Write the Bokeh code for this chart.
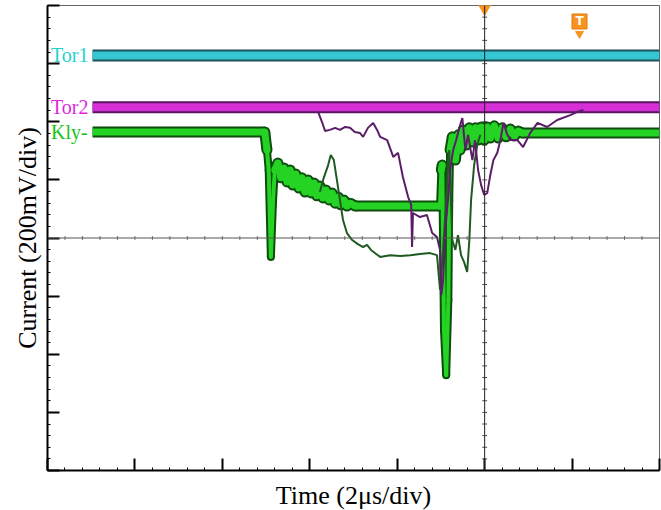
import numpy as np
from bokeh.plotting import figure
from bokeh.models import FixedTicker, Span, CustomJSTickFormatter, CustomLabelingPolicy
from bokeh.core.properties import value
from bokeh.embed import file_html
from bokeh.resources import INLINE

# ---- axis setup (time in microseconds, signal in mV) ----
X_MAJOR = [0, 2, 4, 6, 8, 10, 12, 14]          # 2 us / div
Y_MAJOR = [-800, -600, -400, -200, 0, 200, 400, 600, 800]  # 200 mV / div
TRIG_T = 10.0
T_ICON_T, T_ICON_V = 12.17, 745

# ---- channel baselines ----
tor1_t = [1.03, 14.0]
tor1_v = [628, 628]
tor2_t = [1.03, 14.0]
tor2_v = [450, 450]

# ---- Kly- main trace ----
kly_t = [1.03, 4.97, 5.02, 5.06, 5.11, 5.16, 5.20, 5.27, 5.34, 5.41, 5.48, 5.55, 5.61,
         5.68, 5.75, 5.82, 5.89, 5.96, 6.03, 6.10, 6.16, 6.23, 6.30, 6.37, 6.44, 6.51,
         6.58, 6.65, 6.71, 6.78, 6.85, 6.92, 7.04, 8.98, 9.01, 9.03, 9.05, 9.07, 9.12,
         9.17, 9.19, 9.21, 9.26, 9.33, 9.40, 9.44, 9.51, 9.58, 9.65, 9.72, 9.79, 9.85,
         9.92, 9.99, 10.06, 10.13, 10.22, 10.31, 10.40, 10.49, 10.59, 10.68, 10.77,
         10.86, 14.0]
kly_v = [365, 365, 303, 234, -65, 131, 234, 258, 207, 241, 193, 234, 182, 220, 172,
         207, 158, 200, 155, 189, 145, 179, 138, 165, 131, 155, 120, 141, 114, 131,
         110, 120, 110, 110, 234, 251, -41, -317, -472, -213, 131, 303, 348, 268, 355,
         303, 372, 320, 379, 330, 379, 337, 382, 337, 382, 344, 386, 344, 379, 348,
         375, 351, 368, 361, 361]

# ---- second Kly- acquisition (thin dark green) ----
kly2_t = [6.23, 6.32, 6.42, 6.48, 6.55, 6.62, 6.69, 6.76, 6.85, 6.97, 7.10, 7.22, 7.31,
          7.40, 7.52, 7.61, 7.84, 8.07, 8.30, 8.52, 8.75, 8.91, 8.98, 9.05, 9.12, 9.19,
          9.26, 9.33, 9.39, 9.46, 9.53, 9.60, 9.65, 9.69, 9.76, 9.83, 9.90]
kly2_v = [158, 207, 251, 286, 268, 200, 131, 62, 17, -7, -21, -31, -24, -41, -55, -65,
          -59, -62, -59, -55, -52, -59, -179, -41, 131, 303, -7, -41, 10, -59, -83,
          -117, -7, 131, 251, 320, 355]

# ---- second Tor2 acquisition (thin purple) ----
tor2b_t = [6.19, 6.28, 6.35, 6.46, 6.58, 6.69, 6.81, 6.92, 7.03, 7.15, 7.22, 7.33, 7.45,
           7.54, 7.61, 7.77, 7.91, 8.02, 8.13, 8.25, 8.32, 8.34, 8.36, 8.52, 8.68, 8.80,
           8.91, 8.98, 9.01, 9.05, 9.10, 9.17, 9.21, 9.28, 9.35, 9.42, 9.49, 9.56, 9.62,
           9.72, 9.78, 9.85, 9.92, 9.99, 10.06, 10.13, 10.20, 10.29, 10.36, 10.43, 10.52,
           10.59, 10.75, 10.88, 11.04, 11.21, 11.43, 11.66, 11.96, 12.12, 12.26]
tor2b_v = [434, 399, 368, 372, 379, 372, 382, 379, 365, 361, 348, 379, 396, 372, 348,
           337, 279, 293, 210, 141, 114, -31, 86, 72, 79, 17, 3, -41, -196, -145, 28,
           148, 234, 303, 337, 379, 413, 303, 355, 268, 337, 234, 182, 148, 155, 217,
           268, 293, 337, 396, 355, 337, 337, 313, 361, 396, 382, 406, 423, 434, 441]

labels = ["Tor1", "Tor2", "Kly-"]
label_v = [tor1_v[0], tor2_v[0], kly_v[0]]
label_colors = ["#1fd3cf", "#e21fe2", "#14c414"]

FW, FH = 612, 465
p = figure(frame_width=FW, frame_height=FH, x_range=(0, 14), y_range=(-800, 800),
           output_backend="svg", toolbar_location=None,
           min_border_left=47, min_border_right=2, min_border_top=5, min_border_bottom=40,
           background_fill_color="white", border_fill_color="white")
p.grid.visible = False
p.outline_line_color = "#666666"
p.outline_line_width = 1

no_labels = CustomLabelingPolicy(code="""
const all = [...indices];
for (const i of all) indices.unset(i);
return indices;
""")
blank = CustomJSTickFormatter(code="return '';")

for ax in (p.xaxis[0], p.yaxis[0]):
    ax.axis_line_width = 2
    ax.axis_line_color = "black"
    ax.major_tick_in = 12
    ax.major_tick_out = 0
    ax.minor_tick_in = 3
    ax.minor_tick_out = 0
    ax.major_tick_line_width = 2
    ax.minor_tick_line_width = 1
    ax.major_tick_line_color = "black"
    ax.minor_tick_line_color = "black"
    ax.formatter = blank
    ax.major_label_policy = no_labels
    ax.major_label_standoff = 0
    ax.axis_label_text_font = "Liberation Serif"
    ax.axis_label_text_font_size = "26px"
    ax.axis_label_text_font_style = "normal"
    ax.axis_label_text_color = "black"

p.xaxis.ticker = FixedTicker(ticks=X_MAJOR,
                             minor_ticks=list(np.arange(X_MAJOR[0], X_MAJOR[-1] + 0.01, 0.4)))
p.yaxis.ticker = FixedTicker(ticks=Y_MAJOR,
                             minor_ticks=list(np.arange(Y_MAJOR[0], Y_MAJOR[-1] + 1, 40)))
p.xaxis.axis_label = "Time (2μs/div)"
p.yaxis.axis_label = "Current (200mV/div)"
p.xaxis.axis_label_standoff = 10
p.yaxis.axis_label_standoff = 6

# centre graticule lines
p.add_layout(Span(location=0, dimension="width", line_color="#555555", line_width=1))
p.add_layout(Span(location=TRIG_T, dimension="height", line_color="#222222", line_width=1))
gx = np.arange(X_MAJOR[0], X_MAJOR[-1] + 0.01, 0.4)
p.scatter(gx, np.zeros_like(gx), marker="dash", angle=np.pi / 2, size=4,
          line_color="#777777", line_width=1)
gy = np.arange(Y_MAJOR[0], Y_MAJOR[-1] + 1, 40)
p.scatter(np.full_like(gy, TRIG_T, dtype=float), gy, marker="dash", size=5,
          line_color="#555555", line_width=1)

px_us = FW / 14.0
px_mv = FH / 1600.0


def band(t, v, dark, bright, w_thick=8, w_thin=4, edge=4):
    t = np.asarray(t, float)
    v = np.asarray(v, float)
    dx = np.diff(t) * px_us
    dy = np.abs(np.diff(v)) * px_mv
    steep = dy > 10 * np.maximum(dx, 0.3)
    w_in = np.where(steep, w_thin, w_thick)
    # joints: round fill at interior vertices, flat ends at the trace start/stop
    w_joint = np.maximum(w_in[:-1], w_in[1:]) if len(w_in) > 1 else np.array([])
    for w, col in ((w_in + edge, dark), (w_in, bright)):
        p.segment(t[:-1], v[:-1], t[1:], v[1:], line_width=w, line_color=col,
                  line_cap="butt")
    if len(w_joint):
        p.scatter(t[1:-1], v[1:-1], marker="circle", size=w_joint + edge,
                  fill_color=dark, line_color=None)
        p.scatter(t[1:-1], v[1:-1], marker="circle", size=w_joint,
                  fill_color=bright, line_color=None)


band(tor1_t, tor1_v, "#1d5358", "#35c5d3")
band(tor2_t, tor2_v, "#5a1460", "#d52fd5")


def band_layers(t, v, dark, bright, w_thick=7, w_thin=4, edge=4):
    t = np.asarray(t, float)
    v = np.asarray(v, float)
    dx = np.diff(t) * px_us
    dy = np.abs(np.diff(v)) * px_mv
    steep = dy > 10 * np.maximum(dx, 0.3)
    w_in = np.where(steep, w_thin, w_thick)
    w_joint = np.maximum(w_in[:-1], w_in[1:])
    # dark outline layer first, then bright core
    p.segment(t[:-1], v[:-1], t[1:], v[1:], line_width=w_in + edge, line_color=dark,
              line_cap="butt")
    p.scatter(t[1:-1], v[1:-1], marker="circle", size=w_joint + edge,
              fill_color=dark, line_color=None)
    p.segment(t[:-1], v[:-1], t[1:], v[1:], line_width=w_in, line_color=bright,
              line_cap="butt")
    p.scatter(t[1:-1], v[1:-1], marker="circle", size=w_joint,
              fill_color=bright, line_color=None)


band_layers(kly_t, kly_v, "#0d4d0d", "#25d325")

p.line(kly2_t, kly2_v, line_color="#1f5a22", line_width=2)
p.line(tor2b_t, tor2b_v, line_color="#5b1d68", line_width=2)

# channel labels
p.text(x=[0.08] * 3, y=label_v, text=labels, text_color=label_colors,
       text_font=value("Liberation Serif"), text_font_size="20px",
       text_align="left", text_baseline="middle")

# trigger markers
p.scatter([TRIG_T], [Y_MAJOR[-1] - 10], marker="inverted_triangle", size=12,
          fill_color="#f7931e", line_color="#f7931e")
p.scatter([T_ICON_T], [T_ICON_V - 42], marker="inverted_triangle", size=8,
          fill_color="#f7931e", line_color="#f7931e")
p.scatter([T_ICON_T], [T_ICON_V], marker="square", size=15,
          fill_color="#f7931e", line_color="#e07b10")
p.text(x=[T_ICON_T], y=[T_ICON_V], text=["T"], text_color="white",
       text_font=value("DejaVu Sans"), text_font_style="bold", text_font_size="12px",
       text_align="center", text_baseline="middle")

open("out.html", "w").write(file_html(p, INLINE))
